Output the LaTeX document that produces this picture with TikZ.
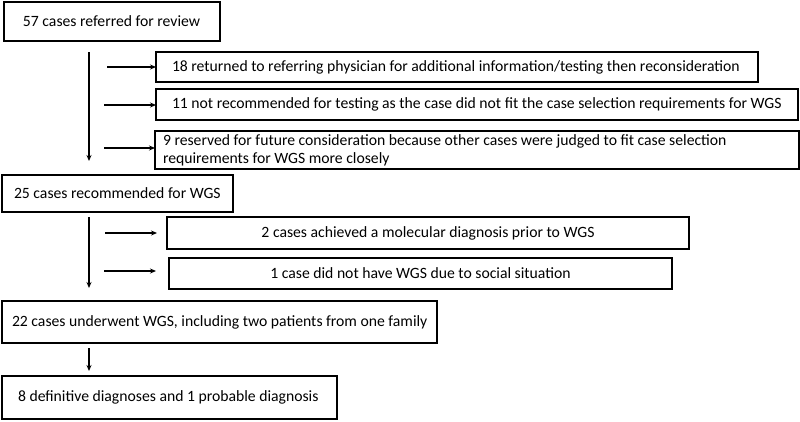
\documentclass[tikz,border=0pt]{standalone}
\usepackage{fontspec}
\setmainfont{Carlito}
\usetikzlibrary{arrows.meta}
\newcommand{\lbox}[3]{\makebox[#1pt][l]{\hspace*{#2pt}#3}}
\newcommand{\cbox}[2]{\makebox[#1pt][c]{#2}}
\tikzset{
  box/.style={draw, line width=1.6pt, rectangle, anchor=north west, outer sep=0pt, inner xsep=0pt, inner ysep=0pt},
  arr/.style={-{Stealth[length=6pt,width=5pt]}, line width=1.2pt}
}
\begin{document}
\begin{tikzpicture}[x=1pt,y=-1pt, font=\fontsize{15.7}{20}\selectfont]
\useasboundingbox (0,0) rectangle (800,421);
\node[box, minimum width=216pt, minimum height=39pt] (b1) at (4,2) {\lbox{216}{19}{57 cases referred for review}};
\node[box, minimum width=602pt, minimum height=30pt] (b2) at (156,52) {\lbox{602}{16}{18 returned to referring physician for additional information/testing then reconsideration}};
\node[box, minimum width=642pt, minimum height=31pt] (b3) at (156,89) {\lbox{642}{16}{11 not recommended for testing as the case did not fit the case selection requirements for WGS}};
\node[box, minimum width=644pt, minimum height=37pt] (b4) at (155,131) {\lbox{644}{8}{\begin{tabular}{@{}l@{}}9 reserved for future consideration because other cases were judged to fit case selection\\[-2pt] requirements for WGS more closely\end{tabular}}};
\node[box, minimum width=231pt, minimum height=37pt] (b5) at (2,175) {\lbox{231}{12}{25 cases recommended for WGS}};
\node[box, minimum width=522pt, minimum height=32pt] (b6) at (167,217) {\cbox{522}{2 cases achieved a molecular diagnosis prior to WGS}};
\node[box, minimum width=503pt, minimum height=31pt] (b7) at (169,258) {\cbox{503}{1 case did not have WGS due to social situation}};
\node[box, minimum width=435pt, minimum height=42pt] (b8) at (2,301) {\lbox{435}{10}{22 cases underwent WGS, including two patients from one family}};
\node[box, minimum width=335pt, minimum height=43pt] (b9) at (2,376) {\lbox{335}{16}{8 definitive diagnoses and 1 probable diagnosis}};
% main flow
\coordinate (v1s) at (89,52);
\coordinate (v1e) at (89,161);
\coordinate (v2s) at (89,217);
\coordinate (v2e) at (89,288);
\coordinate (v3s) at (89,348);
\coordinate (v3e) at (89,371);
\draw[arr] (v1s) -- (v1e);
\draw[arr] (v2s) -- (v2e);
\draw[arr] (v3s) -- (v3e);
% side arrows
\coordinate (a1) at (107,67);
\coordinate (a2) at (104,105);
\coordinate (a3) at (104,148);
\coordinate (a4) at (105,233);
\coordinate (a5) at (104,271);
\draw[arr] (a1) -- (a1 -| b2.west);
\draw[arr] (a2) -- (a2 -| b3.west);
\draw[arr] (a3) -- (a3 -| b4.west);
\draw[arr] (a4) -- (a4 -| {(157,0)});
\draw[arr] (a5) -- (a5 -| {(156,0)});
\end{tikzpicture}
\end{document}
